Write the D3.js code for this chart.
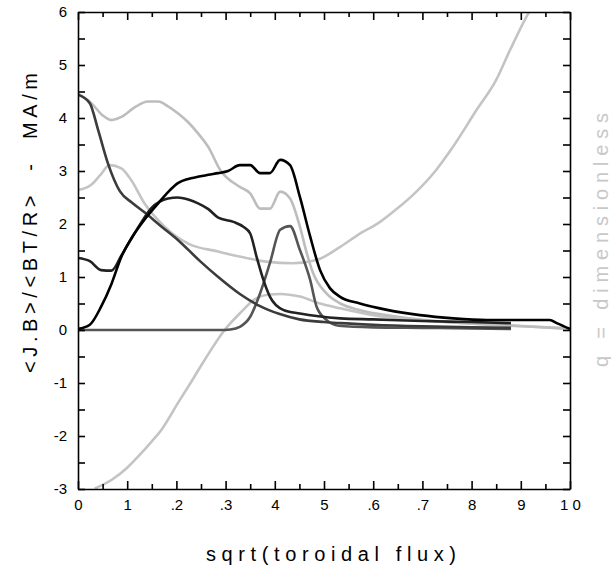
<!DOCTYPE html>
<html>
<head>
<meta charset="utf-8">
<script src="https://cdn.jsdelivr.net/npm/d3@7"></script>
<style>
  body { margin: 0; background: #fff; }
  svg { display: block; }
  text { white-space: pre; }
</style>
</head>
<body>
<svg id="chart"></svg>
<script>
// profiles, x = sqrt(toroidal flux)
const blackX = [0, 0.024, 0.047, 0.068, 0.088, 0.11, 0.135, 0.163, 0.183, 0.203, 0.224, 0.244, 0.265, 0.285, 0.305, 0.329, 0.35, 0.37, 0.39, 0.411, 0.431, 0.451, 0.472, 0.492, 0.512, 0.532, 0.573, 0.628, 0.695, 0.763, 0.831, 0.899, 0.959, 0.973, 1.0];
const blackY = [0.02, 0.1, 0.44, 0.87, 1.38, 1.75, 2.08, 2.39, 2.6, 2.77, 2.85, 2.89, 2.93, 2.96, 3.0, 3.11, 3.11, 2.96, 2.96, 3.21, 3.11, 2.51, 1.76, 1.13, 0.79, 0.63, 0.5, 0.38, 0.28, 0.22, 0.19, 0.19, 0.19, 0.13, 0.02];

const dark1X = [0, 0.024, 0.047, 0.068, 0.088, 0.11, 0.13, 0.149, 0.166, 0.183, 0.203, 0.224, 0.244, 0.265, 0.285, 0.316, 0.336, 0.35, 0.363, 0.377, 0.39, 0.417, 0.451, 0.533, 0.6, 0.7, 0.8, 0.88];
const dark1Y = [1.36, 1.3, 1.13, 1.12, 1.4, 1.75, 2.05, 2.3, 2.42, 2.48, 2.5, 2.46, 2.39, 2.28, 2.12, 2.04, 1.95, 1.82, 1.38, 0.94, 0.63, 0.38, 0.31, 0.22, 0.2, 0.17, 0.15, 0.13];

const dark2X = [0, 0.024, 0.041, 0.061, 0.085, 0.11, 0.135, 0.17, 0.203, 0.248, 0.285, 0.329, 0.37, 0.41, 0.45, 0.5, 0.533, 0.6, 0.7, 0.8, 0.88];
const dark2Y = [4.44, 4.28, 3.77, 3.14, 2.62, 2.4, 2.22, 1.95, 1.7, 1.3, 1.0, 0.68, 0.45, 0.3, 0.2, 0.15, 0.13, 0.1, 0.07, 0.05, 0.04];

const dark3X = [0, 0.289, 0.31, 0.329, 0.35, 0.37, 0.39, 0.411, 0.431, 0.451, 0.472, 0.485, 0.505, 0.53, 0.6, 0.7, 0.8, 0.88];
const dark3Y = [0, 0, 0.01, 0.06, 0.25, 0.69, 1.26, 1.89, 1.96, 1.51, 0.94, 0.44, 0.19, 0.08, 0.05, 0.04, 0.03, 0.02];

const grayAX = [0, 0.027, 0.05, 0.068, 0.088, 0.115, 0.142, 0.163, 0.183, 0.203, 0.224, 0.244, 0.265, 0.289, 0.329, 0.35, 0.37, 0.39, 0.411, 0.431, 0.451, 0.465, 0.478, 0.505, 0.533, 0.57, 0.65, 0.75, 0.85, 0.95, 1.0];
const grayAY = [4.46, 4.28, 4.05, 3.96, 4.02, 4.2, 4.31, 4.31, 4.22, 4.09, 3.92, 3.71, 3.45, 3.02, 2.7, 2.58, 2.29, 2.29, 2.61, 2.48, 1.95, 1.45, 1.07, 0.69, 0.5, 0.38, 0.25, 0.15, 0.1, 0.05, 0.02];

const qX = [0, 0.027, 0.045, 0.064, 0.088, 0.108, 0.135, 0.176, 0.224, 0.285, 0.316, 0.383, 0.437, 0.485, 0.533, 0.57, 0.614, 0.65, 0.681, 0.728, 0.758, 0.81, 0.85, 0.878, 0.915, 0.93];
const qY = [2.64, 2.74, 2.92, 3.11, 3.05, 2.83, 2.39, 1.95, 1.63, 1.48, 1.41, 1.29, 1.26, 1.32, 1.57, 1.8, 2.04, 2.3, 2.55, 3.02, 3.4, 4.15, 4.72, 5.28, 5.97, 6.2];

const grayCX = [0.034, 0.068, 0.1, 0.122, 0.15, 0.169, 0.203, 0.23, 0.257, 0.298, 0.336, 0.352, 0.37, 0.39, 0.411, 0.451, 0.492, 0.533, 0.6, 0.7, 0.8, 0.9, 1.0];
const grayCY = [-2.99, -2.83, -2.6, -2.39, -2.1, -1.89, -1.38, -0.98, -0.57, 0.0, 0.38, 0.53, 0.63, 0.67, 0.68, 0.63, 0.5, 0.41, 0.28, 0.18, 0.12, 0.07, 0.03];

const xTickLabels = ["0", "1", ".2", ".3", "4", "5", ".6", ".7", "8", "9", "1 0"];
const yTickValues = [-3, -2.5, -2, -1.5, -1, -0.5, 0, 0.5, 1, 1.5, 2, 2.5, 3, 3.5, 4, 4.5, 5, 5.5, 6];

const width = 611, height = 568;
const margin = {left: 78, right: 41, top: 12, bottom: 79};

const svg = d3.select("#chart").attr("width", width).attr("height", height);

const x = d3.scaleLinear().domain([0, 1]).range([margin.left, width - margin.right]);
const y = d3.scaleLinear().domain([-3, 6]).range([height - margin.bottom, margin.top]);

svg.append("clipPath").attr("id", "plot")
   .append("rect")
   .attr("x", x(0)).attr("y", y(6))
   .attr("width", x(1) - x(0)).attr("height", y(-3) - y(6));

const series = [
  {xs: qX, ys: qY, color: "#c4c4c4"},
  {xs: grayCX, ys: grayCY, color: "#c4c4c4"},
  {xs: grayAX, ys: grayAY, color: "#bdbdbd"},
  {xs: dark3X, ys: dark3Y, color: "#555"},
  {xs: dark2X, ys: dark2Y, color: "#3c3c3c"},
  {xs: dark1X, ys: dark1Y, color: "#222"},
  {xs: blackX, ys: blackY, color: "#000"}
];

const line = d3.line()
   .x(d => x(d[0]))
   .y(d => y(d[1]))
   .curve(d3.curveMonotoneX);

svg.append("g").attr("clip-path", "url(#plot)")
   .selectAll("path")
   .data(series)
   .enter()
   .append("path")
   .attr("d", s => line(s.xs.map((v, i) => [v, s.ys[i]])))
   .attr("fill", "none")
   .attr("stroke", s => s.color)
   .attr("stroke-width", 2.6)
   .attr("stroke-linejoin", "round");

const tickFont = "'Liberation Sans', Arial, sans-serif";
const xTicks = d3.range(0, 1.0001, 0.05).map(v => +v.toFixed(2));
const isMajor = v => Math.abs(v * 10 - Math.round(v * 10)) < 1e-6;

// bottom axis
const bottomAxis = svg.append("g")
   .attr("transform", `translate(0,${y(-3)})`)
   .call(d3.axisBottom(x).tickValues(xTicks).tickSizeOuter(0).tickSizeInner(-7).tickPadding(10)
         .tickFormat(d => isMajor(d) ? xTickLabels[Math.round(d * 10)].replace(" ", "\u00a0") : ""));
bottomAxis.selectAll(".tick line").attr("y2", d => isMajor(d) ? -8 : -5);

// top axis
const topAxis = svg.append("g")
   .attr("transform", `translate(0,${y(6)})`)
   .call(d3.axisTop(x).tickValues(xTicks).tickSizeOuter(0).tickSizeInner(-7).tickFormat(""));
topAxis.selectAll(".tick line").attr("y2", d => isMajor(d) ? 8 : 5);

// left axis
svg.append("g")
   .attr("transform", `translate(${x(0)},0)`)
   .call(d3.axisLeft(y).tickValues(yTickValues).tickSizeOuter(0).tickSizeInner(-7).tickPadding(11)
         .tickFormat(d => Number.isInteger(d) ? String(d) : ""));

// right axis
svg.append("g")
   .attr("transform", `translate(${x(1)},0)`)
   .call(d3.axisRight(y).tickValues(yTickValues).tickSizeOuter(0).tickSizeInner(-7).tickFormat(""));

svg.selectAll(".domain, .tick line").attr("stroke", "#000").attr("stroke-width", 1.6);
svg.selectAll(".tick text")
   .attr("fill", "#000")
   .style("font-family", tickFont)
   .style("font-size", "15px");

// titles
svg.append("text")
   .attr("x", 206).attr("y", 561)
   .attr("textLength", 250).attr("lengthAdjust", "spacing")
   .style("font-family", tickFont).style("font-size", "20px")
   .text("sqrt(toroidal flux)");

svg.append("text")
   .attr("transform", "translate(37,373) rotate(-90)")
   .attr("textLength", 300).attr("lengthAdjust", "spacing")
   .style("font-family", tickFont).style("font-size", "20px")
   .text("<J.B>/<BT/R>  -  MA/m");

svg.append("text")
   .attr("transform", "translate(608,367) rotate(-90)")
   .attr("textLength", 254).attr("lengthAdjust", "spacing")
   .attr("fill", "#c8c8c8")
   .style("font-family", tickFont).style("font-size", "20px")
   .text("q = dimensionless");
</script>
</body>
</html>
